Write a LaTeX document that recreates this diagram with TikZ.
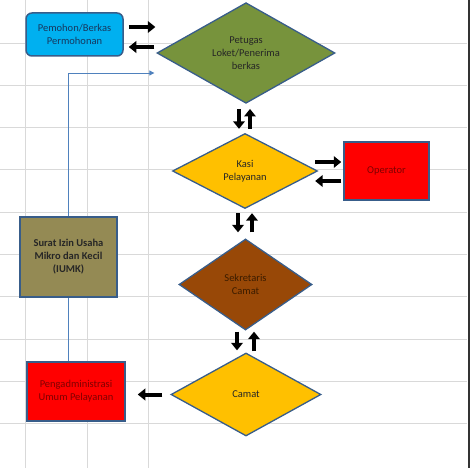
\documentclass[tikz,border=0pt]{standalone}
\usepackage{fontspec}
\setmainfont{Carlito}
\usetikzlibrary{shapes.geometric,arrows.meta}
\definecolor{edge}{HTML}{385D8A}
\definecolor{linkblue}{HTML}{4F81BD}
\definecolor{gridgray}{HTML}{D9D9D9}
\definecolor{cyanfill}{HTML}{00B0F0}
\definecolor{olivefill}{HTML}{77933C}
\definecolor{goldfill}{HTML}{FFC000}
\definecolor{brownfill}{HTML}{984807}
\definecolor{tanfill}{HTML}{948A54}
\definecolor{redfill}{HTML}{FF0000}
\definecolor{darkred}{HTML}{800000}
\definecolor{navytext}{HTML}{17375E}
\definecolor{browntext}{HTML}{3B1C00}

\begin{document}
\begin{tikzpicture}[x=1pt,y=-1pt,
  every node/.style={font=\fontsize{10.5}{13}\selectfont, align=center},
  box/.style={draw=edge, line width=1.5pt, inner sep=0pt},
  dia/.style={diamond, draw=edge, line width=1.3pt, inner sep=0pt},
  blk/.style={line width=4pt, -{Triangle[length=7.5pt,width=11.5pt]}},
  link/.style={draw=linkblue, line width=0.8pt},
  gridline/.style={draw=gridgray, line width=0.8pt}]
\useasboundingbox (0,0) rectangle (474,468);
\fill[white] (0,0) rectangle (474,468);

\foreach \y in {43,85.3,127.6,169.9,212.2,254.5,296.8,339.1,381.4,423.7}
  \draw[gridline] (0,\y) -- (467,\y);
\foreach \x in {25,87,148}
  \draw[gridline] (\x,0) -- (\x,468);
\draw[line width=1.5pt, black!80] (469,0) -- (469,468);

\node[box, rounded corners=6pt, fill=cyanfill, text=navytext,
  minimum width=97pt, minimum height=43pt] (pemohon) at (74.5,34.5) {Pemohon/Berkas\\Permohonan};
\node[dia, fill=olivefill, text=black!85, minimum width=178pt, minimum height=98pt]
  (petugas) at (246,53) {Petugas\\Loket/Penerima\\berkas};
\node[dia, fill=goldfill, text=black!85, minimum width=145pt, minimum height=75pt]
  (kasi) at (245,171) {Kasi\\Pelayanan};
\node[box, fill=redfill, text=darkred, minimum width=85pt, minimum height=58pt]
  (operator) at (386.5,171) {Operator};
\node[dia, fill=brownfill, text=browntext, minimum width=133pt, minimum height=91pt]
  (sekretaris) at (245.5,284.5) {Sekretaris\\Camat};
\node[box, fill=tanfill, text=black!85, font=\fontsize{10.5}{13}\selectfont\bfseries,
  minimum width=97pt, minimum height=80pt] (surat) at (68.5,257) {Surat Izin Usaha\\Mikro dan Kecil\\(IUMK)};
\node[dia, fill=goldfill, text=black!85, minimum width=150pt, minimum height=83pt]
  (camat) at (246,394.5) {Camat};
\node[box, fill=redfill, text=darkred, minimum width=98pt, minimum height=59pt]
  (pengadm) at (76,391.5) {Pengadministrasi\\Umum Pelayanan};

\draw[blk] ([xshift=5pt,yshift=7.5pt]pemohon.east) -- ([xshift=-1pt,yshift=26pt]petugas.west);
\draw[blk] ([xshift=-2pt,yshift=6pt]petugas.west) -- ([xshift=5pt,yshift=-12.5pt]pemohon.east);

\draw[blk] ([xshift=-7pt,yshift=-5pt]petugas.south) -- ([xshift=-6pt,yshift=4pt]kasi.north);
\draw[blk] ([xshift=5pt,yshift=4pt]kasi.north) -- ([xshift=4pt,yshift=-5pt]petugas.south);

\draw[blk] ([xshift=-3pt,yshift=9pt]kasi.east) -- ([xshift=-2pt,yshift=9pt]operator.west);
\draw[blk] ([xshift=-2pt,yshift=-10pt]operator.west) -- ([xshift=-3pt,yshift=-10pt]kasi.east);

\draw[blk] ([xshift=-7pt,yshift=-4pt]kasi.south) -- ([xshift=-7.5pt,yshift=6pt]sekretaris.north);
\draw[blk] ([xshift=6.5pt,yshift=6pt]sekretaris.north) -- ([xshift=7pt,yshift=-4pt]kasi.south);

\draw[blk] ([xshift=-8.5pt,yshift=-1pt]sekretaris.south) -- ([xshift=-9pt,yshift=2pt]camat.north);
\draw[blk] ([xshift=8pt,yshift=1pt]camat.north) -- ([xshift=8.5pt,yshift=-1pt]sekretaris.south);

\draw[blk] ([xshift=-8pt]camat.west) -- ([xshift=12pt]camat.west -| pengadm.east);

\draw[link, -{Triangle[length=5pt,width=5pt]}] (surat.north) |- ([xshift=-2pt,yshift=-20pt]petugas.west);
\draw[link] (surat.south) -- (surat.south |- pengadm.north);
\end{tikzpicture}
\end{document}
